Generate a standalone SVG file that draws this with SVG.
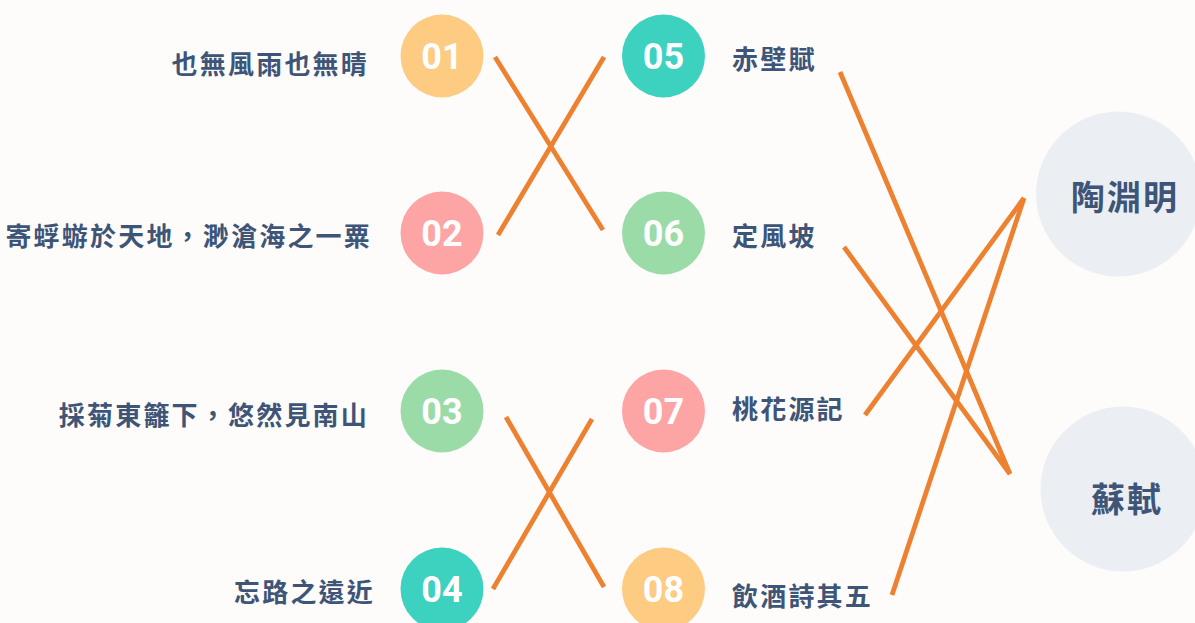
<svg xmlns="http://www.w3.org/2000/svg" width="1195" height="623" viewBox="0 0 1195 623">
<style>
.bg{fill:#FDFCFB}
.lbl{font-family:"Noto Sans CJK TC","Noto Sans CJK SC",sans-serif;font-weight:700;font-size:26px;fill:#3E5578;letter-spacing:2.2px;dominant-baseline:central}
.num{font-family:Roboto,"Liberation Sans",sans-serif;font-weight:700;font-size:36px;fill:#FFFFFF;text-anchor:middle;dominant-baseline:central}
.big{fill:#EBEFF3}
.bigt{font-family:"Noto Sans CJK TC","Noto Sans CJK SC",sans-serif;font-weight:700;font-size:34px;fill:#3E5578;text-anchor:middle;dominant-baseline:central;letter-spacing:2px}
.c-or{fill:#FDCB82}.c-te{fill:#3DD1C0}.c-pk{fill:#FDA5A5}.c-gr{fill:#9ADBA8}
.ln{stroke:#EE8130;stroke-width:4.8;fill:none}
</style>
<rect class="bg" x="0" y="0" width="1195" height="623"/>
<g id="connectors">
<line class="ln" x1="495" y1="57" x2="603" y2="230"/>
<line class="ln" x1="498" y1="235" x2="604" y2="57"/>
<line class="ln" x1="506" y1="417" x2="604" y2="587"/>
<line class="ln" x1="493" y1="589" x2="592" y2="419"/>
<line class="ln" x1="840" y1="72" x2="1010" y2="474"/>
<line class="ln" x1="844" y1="247" x2="1010" y2="474"/>
<line class="ln" x1="865" y1="415" x2="1024" y2="198"/>
<line class="ln" x1="892" y1="595" x2="1024" y2="198"/>
</g>
<g id="n01"><circle class="c-or" cx="442" cy="56" r="41.5"/><text class="num" x="442" y="57">01</text><text class="lbl" x="369" y="62" text-anchor="end">也無風雨也無晴</text></g>
<g id="n02"><circle class="c-pk" cx="442" cy="233" r="41.5"/><text class="num" x="442" y="234">02</text><text class="lbl" x="372" y="234" text-anchor="end">寄蜉蝣於天地，渺滄海之一粟</text></g>
<g id="n03"><circle class="c-gr" cx="442" cy="411" r="41.5"/><text class="num" x="442" y="412">03</text><text class="lbl" x="369" y="413" text-anchor="end">採菊東籬下，悠然見南山</text></g>
<g id="n04"><circle class="c-te" cx="442" cy="589" r="41.5"/><text class="num" x="442" y="590">04</text><text class="lbl" x="375" y="590" text-anchor="end">忘路之遠近</text></g>
<g id="n05"><circle class="c-te" cx="663.5" cy="56" r="41.5"/><text class="num" x="663.5" y="57">05</text><text class="lbl" x="732" y="57">赤壁賦</text></g>
<g id="n06"><circle class="c-gr" cx="663.5" cy="233" r="41.5"/><text class="num" x="663.5" y="234">06</text><text class="lbl" x="732" y="234">定風坡</text></g>
<g id="n07"><circle class="c-pk" cx="663.5" cy="411" r="41.5"/><text class="num" x="663.5" y="412">07</text><text class="lbl" x="732" y="407">桃花源記</text></g>
<g id="n08"><circle class="c-or" cx="663.5" cy="589" r="41.5"/><text class="num" x="663.5" y="590">08</text><text class="lbl" x="732" y="594">飲酒詩其五</text></g>
<g id="tao"><circle class="big" cx="1118.5" cy="194" r="82.5"/><text class="bigt" x="1125" y="195">陶淵明</text></g>
<g id="su"><circle class="big" cx="1123" cy="489" r="82.5"/><text class="bigt" x="1127" y="497">蘇軾</text></g>
</svg>
